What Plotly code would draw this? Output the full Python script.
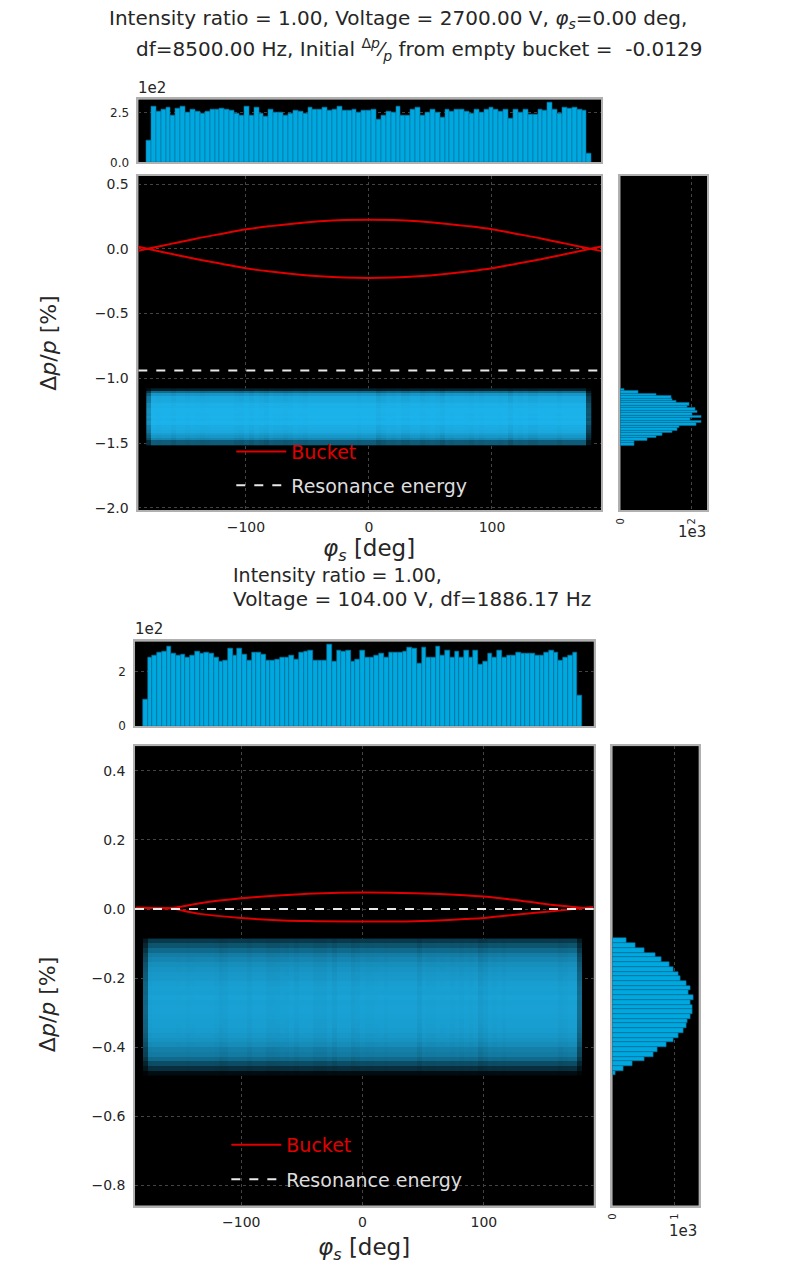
import numpy as np
import plotly.graph_objects as go

# ---------------- data ----------------
# Panel 1 (V = 2700 V)
P1_PHASE_HIST = [108, 283, 255, 267, 275, 238, 272, 283, 250, 267, 258, 247, 255, 267, 267, 272,
                 267, 262, 245, 238, 283, 238, 275, 247, 230, 267, 250, 250, 238, 247, 262, 255,
                 247, 275, 267, 267, 275, 262, 267, 283, 262, 262, 267, 250, 262, 262,
                 267, 217, 238, 258, 250, 283, 238, 238, 267, 275, 238, 250, 267, 250, 228, 267,
                 255, 267, 267, 258, 245, 267, 250, 267, 275, 267, 255, 267, 222, 267, 250, 267,
                 242, 242, 267, 262, 300, 267, 245, 275, 272, 275, 267, 262, 45]
# dp histogram, listed from the highest dp bin to the lowest
P1_DP_HIST = [121, 512, 1004, 1423, 1469, 1562, 1934, 1888, 2120, 2167, 2027, 2279,
              1962, 2288, 2148, 1655, 1609, 1469, 1190, 1004, 772, 400, 400]
P1_PHASE_SPAN = (-181.0, 181.0)
P1_DP_SPAN = (-1.077, -1.518)
P1_SEP_PHASE = [-187.5, -180, -160, -140, -120, -100, -80, -60, -40, -20, 0,
                20, 40, 60, 80, 100, 120, 140, 160, 180, 189]
P1_SEP_UPPER = [-0.015, 0.0, 0.04, 0.08, 0.115, 0.15, 0.175, 0.196, 0.212, 0.222, 0.225,
                0.222, 0.212, 0.196, 0.175, 0.15, 0.115, 0.08, 0.04, 0.0, -0.018]
P1_SEP_LOWER = [0.015, 0.0, -0.04, -0.08, -0.115, -0.15, -0.175, -0.196, -0.212, -0.222, -0.225,
                -0.222, -0.212, -0.196, -0.175, -0.15, -0.115, -0.08, -0.04, 0.0, 0.018]
P1_RESONANCE = -0.94
P1_XRANGE = [-187.5, 189.0]
P1_YRANGE = [-2.02, 0.564]

# Panel 2 (V = 104 V)
P2_PHASE_HIST = [99, 253, 259, 271, 274, 292, 265, 257, 262, 253, 257, 274, 265, 269, 265, 253,
                 236, 242, 286, 259, 286, 262, 242, 271, 269, 262, 242, 242, 245, 253, 250, 259,
                 245, 269, 274, 277, 242, 242, 242, 298, 236, 277, 274, 277, 236, 245, 277, 253,
                 253, 257, 265, 253, 271, 271, 271, 274, 289, 283, 230, 287, 253, 253, 292, 257,
                 277, 253, 274, 250, 277, 253, 277, 224, 238, 265, 253, 277, 250, 259, 259, 271,
                 265, 265, 265, 259, 259, 271, 277, 271, 242, 250, 259, 271, 111]
P2_DP_HIST = [231, 366, 516, 689, 785, 915, 985, 1065, 1092, 1184, 1243, 1216, 1297, 1254, 1280,
              1280, 1254, 1200, 1184, 1130, 1054, 974, 861, 716, 662, 516, 323, 178, 43]
P2_PHASE_SPAN = (-181.0, 181.0)
P2_DP_SPAN = (-0.0855, -0.482)
P2_SEP_PHASE = [-187, -170, -159, -134, -100, -66, -39, 0, 43, 84, 100, 124, 152, 180, 190]
P2_SEP_UPPER = [0.004, 0.003, 0.002, 0.017, 0.031, 0.040, 0.045, 0.048, 0.046, 0.040,
                0.036, 0.027, 0.014, 0.004, 0.0]
P2_SEP_LOWER = [0.004, 0.003, 0.002, -0.014, -0.026, -0.033, -0.035, -0.036, -0.035, -0.029,
                -0.026, -0.017, -0.008, 0.002, 0.006]
P2_RESONANCE = 0.0
P2_XRANGE = [-187.6, 190.7]
P2_YRANGE = [-0.859, 0.472]

# ---------------- styling ----------------
W, H = 797, 1274
FONT = "DejaVu Sans"
HIST_COL = "#00a8e0"
HIST_EDGE = "#00709c"
DOT_COL = "#1cb6f0"
RED = "#e00000"
GRID = "#444444"
FRAME = "#b0b0b0"


def fx(px):
    return px / W


def fy(py):
    return 1 - py / H


def centers(span, n):
    e = np.linspace(span[0], span[1], n + 1)
    return (e[:-1] + e[1:]) / 2, abs(e[1] - e[0])


fig = go.Figure()


def add_panel(sfx, phase_hist, dp_hist, phase_span, dp_span, sep_phase, sep_up, sep_lo,
              res, xrange_, sat, legend_id):
    xa, ya = "x" + sfx[0], "y" + sfx[0]
    xb, yb = "x" + sfx[1], "y" + sfx[1]
    xc, yc = "x" + sfx[2], "y" + sfx[2]
    ph = np.array(phase_hist, float)
    dp = np.array(dp_hist, float)
    pc, pw = centers(phase_span, len(ph))
    dc, dw = centers(dp_span, len(dp))
    # particle cloud density (from the two marginal histograms)
    wphase = np.minimum(ph / np.median(ph), 1.0)
    dens = np.outer(dp / dp.max(), wphase)
    z = 1 - np.exp(-sat * dens)
    fig.add_trace(go.Heatmap(x=pc, y=dc, z=z, zmin=0, zmax=1, showscale=False,
                             colorscale=[[0, "#000000"], [1, DOT_COL]],
                             xaxis=xa, yaxis=ya, hoverinfo="skip"))
    fig.add_trace(go.Scatter(x=sep_phase, y=sep_up, mode="lines", line=dict(color=RED, width=2, shape="spline"),
                             name="<span style='color:%s'>Bucket</span>" % RED, legendgroup="b" + legend_id,
                             legend=legend_id, xaxis=xa, yaxis=ya))
    fig.add_trace(go.Scatter(x=sep_phase, y=sep_lo, mode="lines", line=dict(color=RED, width=2, shape="spline"),
                             showlegend=False, legendgroup="b" + legend_id, xaxis=xa, yaxis=ya))
    fig.add_trace(go.Scatter(x=xrange_, y=[res, res], mode="lines",
                             line=dict(color="#e8e8e8", width=2, dash="dash"),
                             name="Resonance energy", legendgroup="r" + legend_id, legend=legend_id,
                             xaxis=xa, yaxis=ya))
    fig.add_trace(go.Bar(x=pc, y=ph / 100.0, width=pw, marker=dict(color=HIST_COL, line=dict(color=HIST_EDGE, width=0.6)),
                         showlegend=False, xaxis=xb, yaxis=yb, hoverinfo="skip"))
    fig.add_trace(go.Bar(y=dc, x=dp / 1000.0, width=dw, orientation="h",
                         marker=dict(color=HIST_COL, line=dict(color=HIST_EDGE, width=0.6)),
                         showlegend=False, xaxis=xc, yaxis=yc, hoverinfo="skip"))


add_panel(["", "2", "3"], P1_PHASE_HIST, P1_DP_HIST, P1_PHASE_SPAN, P1_DP_SPAN,
          P1_SEP_PHASE, P1_SEP_UPPER, P1_SEP_LOWER, P1_RESONANCE, P1_XRANGE, 4.0, "legend")
add_panel(["4", "5", "6"], P2_PHASE_HIST, P2_DP_HIST, P2_PHASE_SPAN, P2_DP_SPAN,
          P2_SEP_PHASE, P2_SEP_UPPER, P2_SEP_LOWER, P2_RESONANCE, P2_XRANGE, 2.2, "legend2")

tickfont = dict(family=FONT, size=14, color="#262626")
smallfont = dict(family=FONT, size=12, color="#262626")
base = dict(showline=True, mirror=True, linecolor=FRAME, linewidth=1.5, ticks="",
            gridcolor=GRID, griddash="dot", gridwidth=1, zeroline=False, tickfont=tickfont,
            ticklabelstandoff=5)

# boxes in pixels
m1x, m1y = (133.3, 600.0), (176.7, 513.3)
h1y = (100.0, 163.3)
r1x = (619.0, 706.7)
m2x, m2y = (130.0, 592.3), (750.2, 1212.3)
h2y = (645.0, 730.0)
r2x = (611.0, 698.0)

fig.update_layout(
    xaxis=dict(base, domain=[fx(m1x[0]), fx(m1x[1])], anchor="y", range=P1_XRANGE,
               tickvals=[-100, 0, 100], showgrid=True, ticklabelstandoff=3),
    yaxis=dict(base, domain=[fy(m1y[1]), fy(m1y[0])], anchor="x", range=P1_YRANGE,
               dtick=0.5, tick0=0, tickformat=".1f", showgrid=True),
    xaxis2=dict(base, domain=[fx(m1x[0]), fx(m1x[1])], anchor="y2", matches="x",
                showticklabels=False, showgrid=False),
    yaxis2=dict(base, domain=[fy(h1y[1]), fy(h1y[0])], anchor="x2", range=[0, 3.165],
                tickvals=[0, 2.5], tickformat=".1f", tickfont=smallfont, showgrid=True),
    xaxis3=dict(base, domain=[fx(r1x[0]), fx(r1x[1])], anchor="y3", range=[0, 2.446],
                tickvals=[0, 2], tickangle=-90, tickfont=dict(smallfont, size=10),
                ticklabelstandoff=2, showgrid=True),
    yaxis3=dict(base, domain=[fy(m1y[1]), fy(m1y[0])], anchor="x3", matches="y",
                showticklabels=False, showgrid=False),
    xaxis4=dict(base, domain=[fx(m2x[0]), fx(m2x[1])], anchor="y4", range=P2_XRANGE,
                tickvals=[-100, 0, 100], showgrid=True, ticklabelstandoff=3),
    yaxis4=dict(base, domain=[fy(m2y[1]), fy(m2y[0])], anchor="x4", range=P2_YRANGE,
                dtick=0.2, tick0=0, tickformat=".1f", showgrid=True),
    xaxis5=dict(base, domain=[fx(m2x[0]), fx(m2x[1])], anchor="y5", matches="x4",
                showticklabels=False, showgrid=False),
    yaxis5=dict(base, domain=[fy(h2y[1]), fy(h2y[0])], anchor="x5", range=[0, 3.1],
                tickvals=[0, 2], tickformat="d", tickfont=smallfont, showgrid=True),
    xaxis6=dict(base, domain=[fx(r2x[0]), fx(r2x[1])], anchor="y6", range=[0, 1.384],
                tickvals=[0, 1], tickangle=-90, tickfont=dict(smallfont, size=10),
                ticklabelstandoff=2, showgrid=True),
    yaxis6=dict(base, domain=[fy(m2y[1]), fy(m2y[0])], anchor="x6", matches="y4",
                showticklabels=False, showgrid=False),
    width=W, height=H, margin=dict(l=0, r=0, t=0, b=0),
    paper_bgcolor="white", plot_bgcolor="black", bargap=0,
    font=dict(family=FONT, color="#262626"),
    legend=dict(x=fx(227), y=fy(435), xanchor="left", yanchor="top", bgcolor="rgba(0,0,0,0)",
                font=dict(family=FONT, size=19, color="#dddddd"), itemwidth=50, tracegroupgap=6),
    legend2=dict(x=fx(222), y=fy(1132), xanchor="left", yanchor="top", bgcolor="rgba(0,0,0,0)",
                 font=dict(family=FONT, size=19, color="#dddddd"), itemwidth=50, tracegroupgap=7),
)

ann = []


def text(s, x, y, size, xanchor="center", yanchor="middle", angle=0, color="#262626", **kw):
    ann.append(dict(text=s, x=fx(x), y=fy(y), xref="paper", yref="paper", showarrow=False,
                    xanchor=xanchor, yanchor=yanchor, textangle=angle,
                    font=dict(family=FONT, size=size, color=color), **kw))


PHI = "<i>φ<sub>s</sub></i>"
DPP = "<sup>Δ<i>p</i></sup>⁄<sub><i>p</i></sub>"
text("Intensity ratio = 1.00, Voltage = 2700.00 V, " + PHI + "=0.00 deg,", 102, 19, 20, xanchor="left")
text("df=8500.00 Hz, Initial " + DPP + " from empty bucket =  -0.0129", 129, 50, 20, xanchor="left")
text("1e2", 131, 88, 15, xanchor="left")
text("1e3", 707, 535, 15, xanchor="right")
text("Δ<i>p</i>/<i>p</i> [%]", 42, 345, 22, angle=-90)
text(PHI + " [deg]", 366, 553, 23)
text("Intensity ratio = 1.00,", 227, 578, 19, xanchor="left")
text("Voltage = 104.00 V, df=1886.17 Hz", 227, 602, 20, xanchor="left")
text("1e2", 128, 632, 15, xanchor="left")
text("1e3", 698, 1238, 15, xanchor="right")
text("Δ<i>p</i>/<i>p</i> [%]", 42, 1010, 22, angle=-90)
text(PHI + " [deg]", 361, 1256, 23)
fig.update_layout(annotations=ann)

fig.write_html("out.html", config={"displayModeBar": False},
               post_script="document.body.style.margin='0px';")
